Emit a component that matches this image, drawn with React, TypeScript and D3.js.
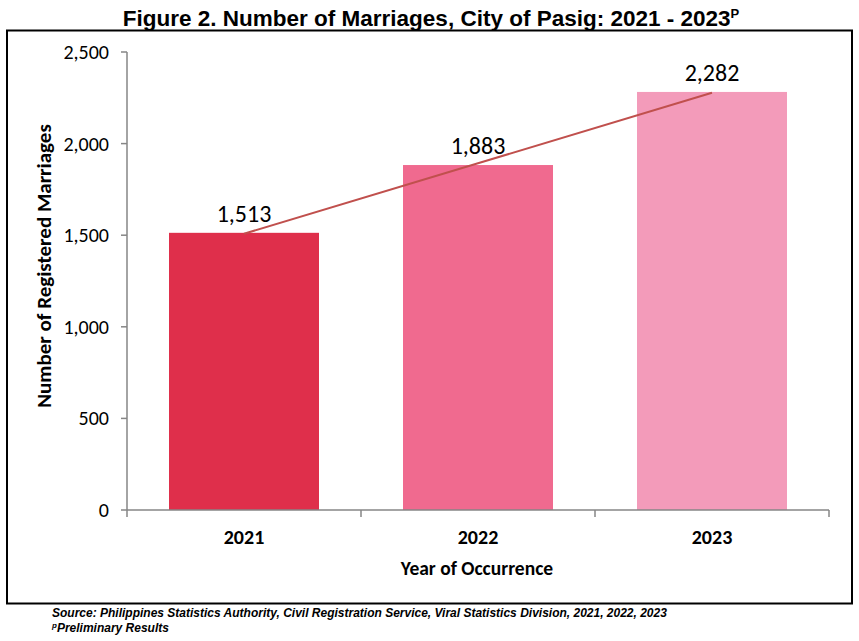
import React from "react";
import * as d3 from "d3";

const categories = ["2021", "2022", "2023"];
const values = [1513, 1883, 2282];
const barColors = ["#DF2F4B", "#F06A8F", "#F39BBA"];
const yTicks = [0, 500, 1000, 1500, 2000, 2500];

export default function App() {
  const W = 859, H = 641;
  const left = 127, right = 829, top = 52, bottom = 510;
  const x = d3.scaleBand<string>().domain(categories).range([left, right]).paddingInner(0.359).paddingOuter(0.1795);
  const y = d3.scaleLinear().domain([0, 2500]).range([bottom, top]);
  const fmt = d3.format(",");
  // linear trend (least squares)
  const xs = categories.map((_, i) => i + 1);
  const mx = d3.mean(xs)!, my = d3.mean(values)!;
  const slope = d3.sum(xs.map((v, i) => (v - mx) * (values[i] - my))) / d3.sum(xs.map(v => (v - mx) ** 2));
  const intercept = my - slope * mx;
  const cx = (c: string) => x(c)! + x.bandwidth() / 2;
  const trend = d3.line<number>()
    .x((_, i) => cx(categories[i]))
    .y(v => y(intercept + slope * v));
  const step = (right - left) / categories.length;
  const catTicks = d3.range(categories.length + 1).map(i => left + i * step);
  const calibri = "Carlito, Lato, 'Open Sans', sans-serif";
  return (
    <svg width={W} height={H} style={{ position: "absolute", left: 0, top: 0, background: "#fff" }}>
      <rect x={7} y={30.5} width={845} height={573} fill="none" stroke="#000" strokeWidth={2} />
      <text x={431} y={26} textAnchor="middle" fontFamily="'Liberation Sans', Arial, sans-serif" fontWeight="bold" fontSize={22.5}>
        Figure 2. Number of Marriages, City of Pasig: 2021 - 2023
        <tspan fontSize={13} dy={-8}>P</tspan>
      </text>
      {categories.map((c, i) => (
        <rect key={c} x={x(c)} y={y(values[i])} width={x.bandwidth()} height={bottom - y(values[i])} fill={barColors[i]} />
      ))}
      <path d={trend(xs) || ""} fill="none" stroke="#C0504D" strokeWidth={2} />
      {categories.map((c, i) => (
        <text key={c} x={cx(c)} y={y(values[i]) - 11} textAnchor="middle" fontFamily={calibri} fontSize={24} fill="#000">
          {fmt(values[i])}
        </text>
      ))}
      <line x1={left} x2={left} y1={top} y2={bottom} stroke="#868686" strokeWidth={1.5} />
      {yTicks.map(t => (
        <g key={t}>
          <line x1={left - 6} x2={left} y1={y(t)} y2={y(t)} stroke="#868686" strokeWidth={1.5} />
          <text x={left - 18} y={y(t)} dy="0.35em" textAnchor="end" fontFamily={calibri} fontSize={20} fill="#000">
            {fmt(t)}
          </text>
        </g>
      ))}
      <line x1={left} x2={right} y1={bottom} y2={bottom} stroke="#868686" strokeWidth={1.5} />
      {catTicks.map((t, i) => (
        <line key={i} x1={t} x2={t} y1={bottom} y2={bottom + 7} stroke="#868686" strokeWidth={1.5} />
      ))}
      {categories.map(c => (
        <text key={c} x={cx(c)} y={544} textAnchor="middle" fontFamily={calibri} fontWeight="bold" fontSize={20} fill="#000">
          {c}
        </text>
      ))}
      <text x={477} y={575} textAnchor="middle" fontFamily={calibri} fontWeight="bold" fontSize={19.5} fill="#000">
        Year of Occurrence
      </text>
      <text transform={`translate(51,${(top + bottom) / 2 - 15}) rotate(-90)`} textAnchor="middle" fontFamily={calibri} fontWeight="bold" fontSize={21} fill="#000">
        Number of Registered Marriages
      </text>
      <text x={52} y={617} fontFamily="'Liberation Sans Narrow', 'Liberation Sans', Arial, sans-serif" fontStyle="italic" fontWeight="bold" fontSize={12}>
        Source: Philippines Statistics Authority, Civil Registration Service, Viral Statistics Division, 2021, 2022, 2023
      </text>
      <text x={52} y={632} fontFamily="'Liberation Sans Narrow', 'Liberation Sans', Arial, sans-serif" fontStyle="italic" fontWeight="bold" fontSize={12}>
        <tspan fontSize={8} dy={-4}>p</tspan>
        <tspan dy={4}>Preliminary Results</tspan>
      </text>
    </svg>
  );
}
